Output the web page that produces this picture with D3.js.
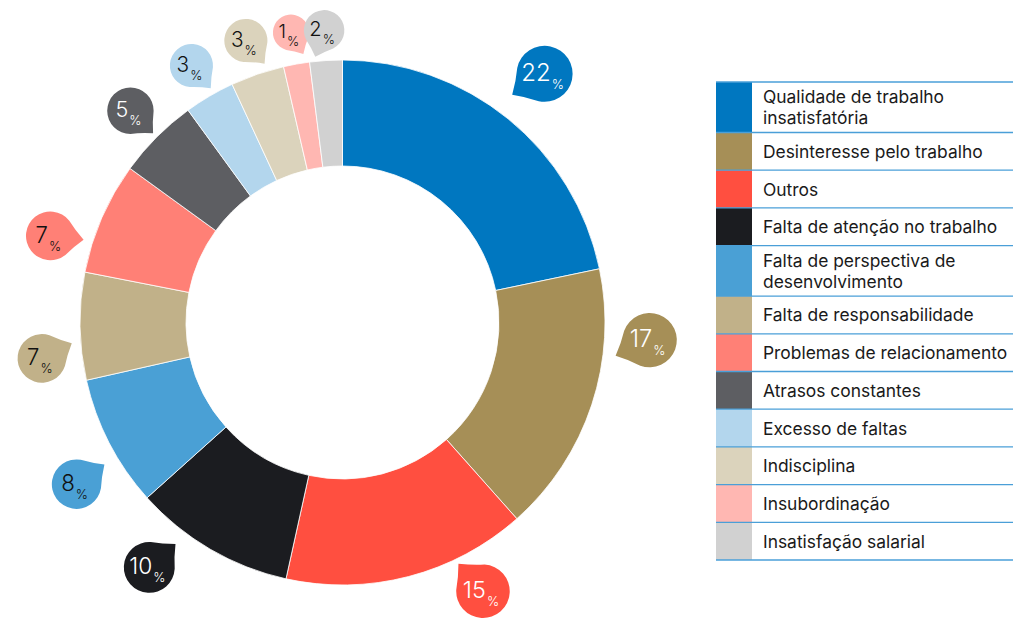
<!DOCTYPE html>
<html>
<head>
<meta charset="utf-8">
<script src="https://cdn.jsdelivr.net/npm/d3@7"></script>
<style>
  html, body { margin: 0; padding: 0; background: #ffffff; }
  svg { display: block; font-family: "Inter", "Roboto", sans-serif; }
</style>
</head>
<body>
<svg id="chart" width="1015" height="619"></svg>
<script>
// ---- data ----
const categories = [
  "Qualidade de trabalho insatisfatória",
  "Desinteresse pelo trabalho",
  "Outros",
  "Falta de atenção no trabalho",
  "Falta de perspectiva de desenvolvimento",
  "Falta de responsabilidade",
  "Problemas de relacionamento",
  "Atrasos constantes",
  "Excesso de faltas",
  "Indisciplina",
  "Insubordinação",
  "Insatisfação salarial"
];
const values = [21.7, 16.7, 15.0, 9.9, 8.1, 6.6, 6.9, 5.0, 3.1, 3.3, 1.6, 2.0];
const percentLabels = ["22", "17", "15", "10", "8", "7", "7", "5", "3", "3", "1", "2"];
const colors = ["#0077c0", "#a68f57", "#ff4f40", "#1b1c20", "#4aa0d5", "#c1b189",
                "#ff8076", "#5d5e62", "#b3d6ed", "#dbd3bc", "#ffb7b2", "#d1d1d1"];

// ---- layout tweaks for label bubbles (degrees / px) ----
const labelAngleNudge = [0, -15, -13, 8, -4, -6, -7, 0, 0, 0, 0, 0];
const labelRadiusNudge = [16, 4, 0, 10, 10, 2, 4, 0, 0, 0, 0, -4];
const tailTurn = [18, -28, -14, 10, -4, -20, -10, 0, -10, -20, -20, 22];

const svg = d3.select("#chart");
const cx = 342.5, cy = 322.5;
const outerR = 262.5, innerR = 156.5;

const data = categories.map((c, i) => ({ cat: c, value: values[i], label: percentLabels[i], color: colors[i], i }));

const pie = d3.pie().value(d => d.value).sort(null);
const arcs = pie(data);
const arc = d3.arc().innerRadius(innerR).outerRadius(outerR);

const g = svg.append("g").attr("transform", `translate(${cx},${cy})`);
g.selectAll("path.slice")
  .data(arcs)
  .join("path")
  .attr("class", "slice")
  .attr("d", arc)
  .attr("fill", d => d.data.color)
  .attr("stroke", "#ffffff")
  .attr("stroke-width", 0.8);

// ---- bubbles ----
const rScale = d3.scaleLog().domain([1, 22]).range([18, 28]);

function bubblePath(bx, by, r, phi) {
  const s = Math.PI / 4;
  const p1 = [bx + r * Math.cos(phi + s), by + r * Math.sin(phi + s)];
  const p2 = [bx + r * Math.cos(phi - s), by + r * Math.sin(phi - s)];
  const tl = r * 1.38;
  const t = [bx + tl * Math.cos(phi), by + tl * Math.sin(phi)];
  // slight concave flare near the tip
  const f = 0.06 * r;
  const c1 = [ (p1[0] + t[0]) / 2 - f * Math.cos(phi), (p1[1] + t[1]) / 2 - f * Math.sin(phi) ];
  const c2 = [ (p2[0] + t[0]) / 2 - f * Math.cos(phi), (p2[1] + t[1]) / 2 - f * Math.sin(phi) ];
  return `M${p1[0]},${p1[1]} Q${c1[0]},${c1[1]} ${t[0]},${t[1]} Q${c2[0]},${c2[1]} ${p2[0]},${p2[1]} A${r},${r} 0 1 0 ${p1[0]},${p1[1]} Z`;
}

const bubbles = svg.append("g");
arcs.forEach(a => {
  const d = a.data;
  const r = rScale(+d.label);
  const ang = (a.startAngle + a.endAngle) / 2 + labelAngleNudge[d.i] * Math.PI / 180;
  const dist = outerR + 14 + r + labelRadiusNudge[d.i];
  const bx = cx + dist * Math.sin(ang);
  const by = cy - dist * Math.cos(ang);
  const phi = Math.atan2(cy - by, cx - bx) + tailTurn[d.i] * Math.PI / 180;
  const bg = bubbles.append("g");
  bg.append("path").attr("d", bubblePath(bx, by, r, phi)).attr("fill", d.color);
  const txtColor = d3.lab(d.color).l < 62 ? "#ffffff" : "#111111";
  const fs = 10 + r * 0.5;
  const t = bg.append("text")
    .attr("x", bx - 2)
    .attr("y", by + fs * 0.3)
    .attr("text-anchor", "middle")
    .attr("fill", txtColor)
    .style("font-weight", 300);
  t.append("tspan").attr("font-size", fs).text(d.label);
  t.append("tspan").attr("font-size", 13).attr("dy", 8).attr("dx", 1).text("%");
});

// ---- legend ----
const lgX = 716, lgRight = 1013, swW = 36, txX = 763;
const lgTop = 82, lineH = 21, singleH = 37.7, fontSize = 17.4;
const maxW = lgRight - txX + 4;

const legend = svg.append("g");
const measure = svg.append("text").attr("font-size", fontSize).attr("visibility", "hidden");
function wrap(text) {
  const words = text.split(" ");
  const lines = [];
  let cur = "";
  words.forEach(w => {
    const test = cur ? cur + " " + w : w;
    measure.text(test);
    if (measure.node().getComputedTextLength() > maxW && cur) {
      lines.push(cur);
      cur = w;
    } else cur = test;
  });
  lines.push(cur);
  return lines;
}

let y = lgTop;
const rows = data.map(d => {
  const lines = wrap(d.cat);
  const h = singleH + (lines.length - 1) * 12.8;
  const row = { d, lines, y0: y, h };
  y += h;
  return row;
});
measure.remove();

rows.forEach(row => {
  legend.append("rect")
    .attr("x", lgX).attr("y", row.y0)
    .attr("width", swW).attr("height", row.h)
    .attr("fill", row.d.color);
  const n = row.lines.length;
  const midY = row.y0 + row.h / 2;
  const firstBase = midY + 6.5 - (n - 1) * lineH / 2;
  const t = legend.append("text")
    .attr("font-size", fontSize)
    .attr("fill", "#1a1a1a");
  row.lines.forEach((ln, k) => {
    t.append("tspan").attr("x", txX).attr("y", firstBase + k * lineH).text(ln);
  });
});
// separator lines
const lineYs = [lgTop].concat(rows.map(r => r.y0 + r.h));
legend.selectAll("line.sep")
  .data(lineYs)
  .join("line")
  .attr("class", "sep")
  .attr("x1", lgX).attr("x2", lgRight)
  .attr("y1", d => d).attr("y2", d => d)
  .attr("stroke", "#4a9fd8")
  .attr("stroke-width", 1.3);
</script>
</body>
</html>
